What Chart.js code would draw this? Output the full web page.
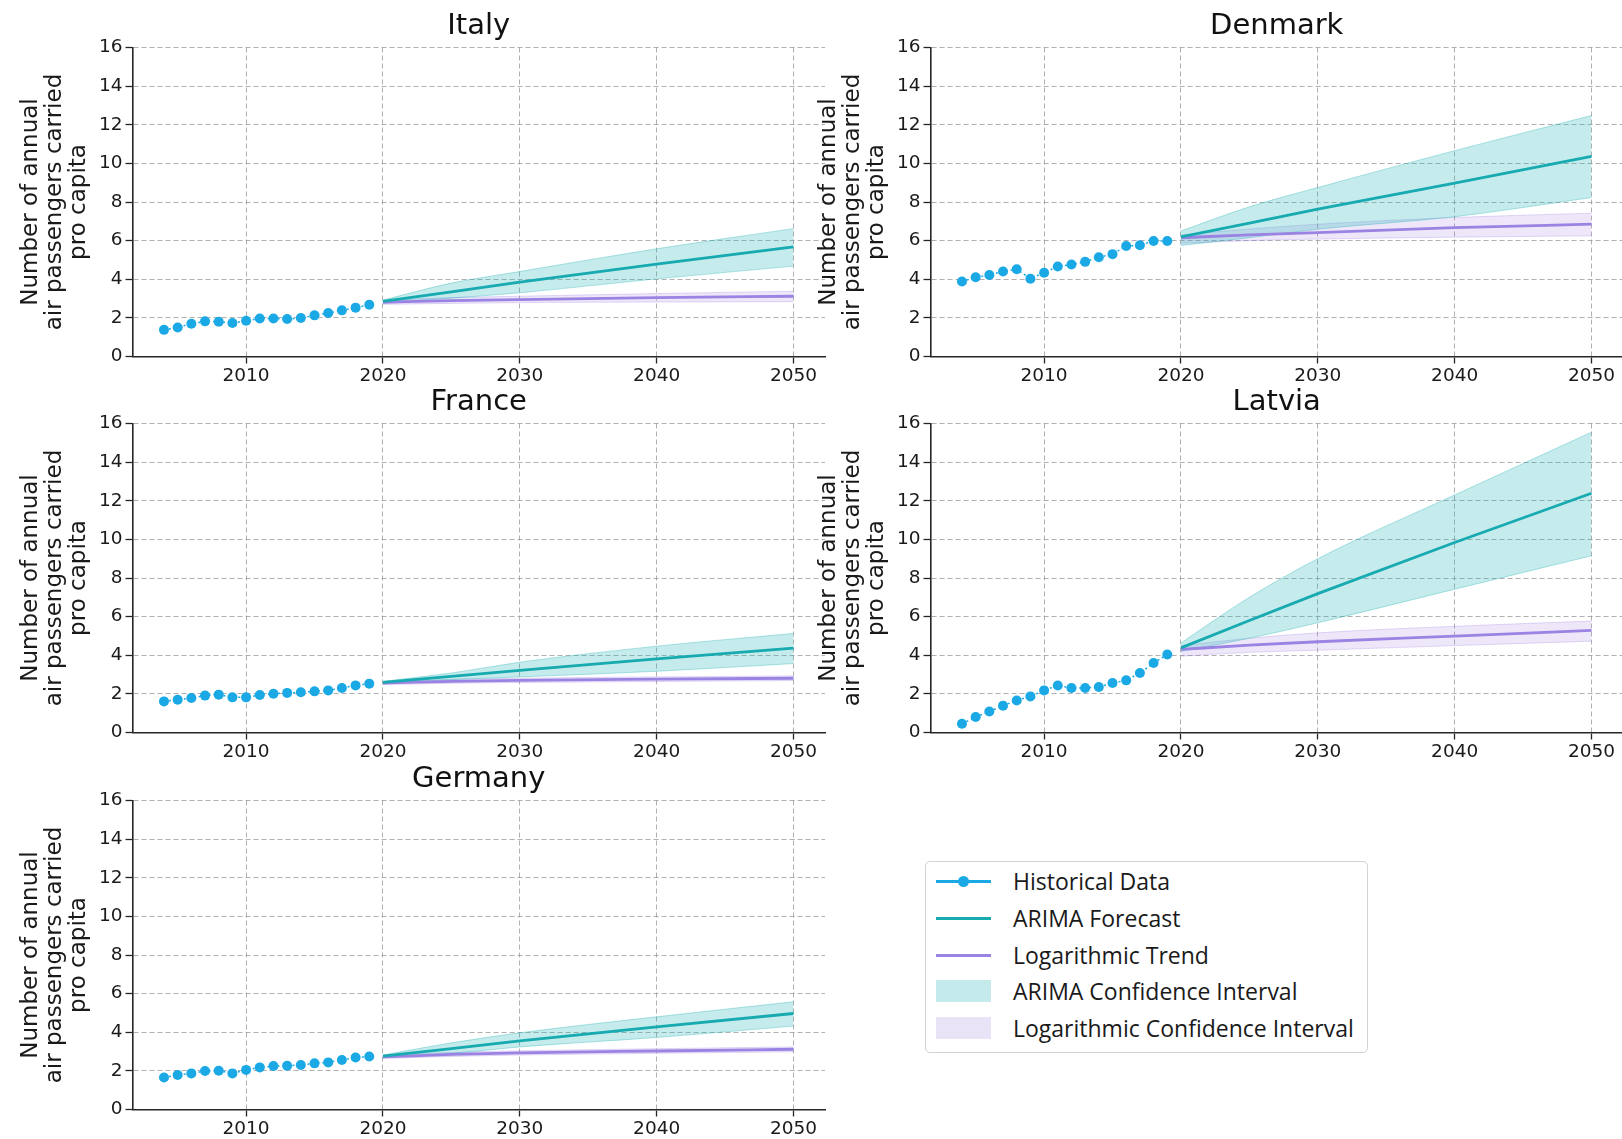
<!DOCTYPE html>
<html>
<head>
<meta charset="utf-8">
<script src="https://cdn.jsdelivr.net/npm/chart.js@4.4.1/dist/chart.umd.min.js"></script>
<style>
    html, body { margin: 0; padding: 0; width: 1622px; height: 1139px; overflow: hidden; background: #fff; }
    canvas { position: absolute; }
    #legend {
        position: absolute; left: 925px; top: 861px; width: 443px; height: 192px;
        box-sizing: border-box; border: 1px solid #d2d2d2; border-radius: 5px;
        font-family: 'Open Sans', sans-serif; font-size: 23px; color: #1a1a1a;
    }
    #legend .row { position: absolute; left: 0; height: 36px; display: flex; align-items: center; }
    #legend .handle { position: relative; width: 55px; height: 22px; margin-left: 10px; margin-right: 22px; }
    #legend .line { position: absolute; left: 0; right: 0; top: 10px; height: 3px; }
    #legend .dot { position: absolute; left: 22px; top: 6px; width: 11px; height: 11px; border-radius: 50%; }
    #legend .swatch { position: absolute; left: 0; right: 0; top: 0; bottom: 0; }
</style>
</head>
<body>
<div id="legend">
    <div class="row" style="top:1px"><div class="handle"><div class="line" style="background:#1aa9e4"></div><div class="dot" style="background:#1aa9e4"></div></div><span>Historical Data</span></div>
    <div class="row" style="top:38px"><div class="handle"><div class="line" style="background:#17aab0"></div></div><span>ARIMA Forecast</span></div>
    <div class="row" style="top:75px"><div class="handle"><div class="line" style="background:#9a83e2"></div></div><span>Logarithmic Trend</span></div>
    <div class="row" style="top:111px"><div class="handle"><div class="swatch" style="background:#c4eaeb"></div></div><span>ARIMA Confidence Interval</span></div>
    <div class="row" style="top:148px"><div class="handle"><div class="swatch" style="background:#e9e3f8"></div></div><span>Logarithmic Confidence Interval</span></div>
</div>
<script>
// years and ticks
const histYears = [2004, 2005, 2006, 2007, 2008, 2009, 2010, 2011, 2012, 2013, 2014, 2015, 2016, 2017, 2018, 2019];
const fcYears = [2020, 2025, 2030, 2040, 2050];
const xTicks = [2010, 2020, 2030, 2040, 2050];
const yTicks = [0, 2, 4, 6, 8, 10, 12, 14, 16];
const yLabel = ['Number of annual', 'air passengers carried', 'pro capita'];

// Italy
const italyHist = [1.38, 1.50, 1.70, 1.82, 1.80, 1.73, 1.85, 1.97, 1.97, 1.94, 1.99, 2.13, 2.25, 2.39, 2.53, 2.68];
const italyArima = [2.85, 3.35, 3.85, 4.78, 5.68];
const italyArimaHi = [2.92, 3.80, 4.40, 5.58, 6.62];
const italyArimaLo = [2.78, 3.02, 3.30, 4.02, 4.68];
const italyLog = [2.81, 2.89, 2.95, 3.05, 3.12];
const italyLogHi = [2.92, 3.05, 3.12, 3.26, 3.38];
const italyLogLo = [2.70, 2.75, 2.79, 2.82, 2.84];

// Denmark
const denmarkHist = [3.88, 4.10, 4.22, 4.40, 4.52, 4.03, 4.34, 4.66, 4.76, 4.90, 5.14, 5.30, 5.72, 5.76, 5.98, 5.98];
const denmarkArima = [6.20, 6.90, 7.63, 8.98, 10.36];
const denmarkArimaHi = [6.50, 7.75, 8.75, 10.66, 12.48];
const denmarkArimaLo = [5.75, 6.15, 6.59, 7.24, 8.23];
const denmarkLog = [6.15, 6.30, 6.41, 6.67, 6.85];
const denmarkLogHi = [6.30, 6.60, 6.85, 7.20, 7.42];
const denmarkLogLo = [5.86, 6.00, 6.08, 6.18, 6.25];

// France
const franceHist = [1.61, 1.70, 1.79, 1.91, 1.96, 1.82, 1.82, 1.94, 2.01, 2.05, 2.08, 2.13, 2.18, 2.30, 2.44, 2.53];
const franceArima = [2.60, 2.91, 3.22, 3.81, 4.37];
const franceArimaHi = [2.65, 3.08, 3.64, 4.47, 5.13];
const franceArimaLo = [2.55, 2.74, 2.88, 3.17, 3.57];
const franceLog = [2.56, 2.65, 2.70, 2.76, 2.81];
const franceLogHi = [2.64, 2.75, 2.81, 2.88, 2.93];
const franceLogLo = [2.48, 2.55, 2.59, 2.64, 2.69];

// Latvia
const latviaHist = [0.45, 0.80, 1.09, 1.39, 1.66, 1.87, 2.18, 2.43, 2.30, 2.30, 2.36, 2.56, 2.70, 3.08, 3.60, 4.04];
const latviaArima = [4.38, 5.80, 7.19, 9.84, 12.39];
const latviaArimaHi = [4.64, 7.00, 9.00, 12.30, 15.55];
const latviaArimaLo = [4.20, 4.88, 5.68, 7.42, 9.15];
const latviaLog = [4.30, 4.52, 4.70, 4.99, 5.29];
const latviaLogHi = [4.50, 4.88, 5.16, 5.50, 5.77];
const latviaLogLo = [3.95, 4.15, 4.26, 4.50, 4.73];

// Germany
const germanyHist = [1.66, 1.79, 1.87, 1.99, 2.01, 1.87, 2.05, 2.18, 2.25, 2.27, 2.30, 2.39, 2.44, 2.56, 2.69, 2.74];
const germanyArima = [2.76, 3.15, 3.55, 4.28, 4.97];
const germanyArimaHi = [2.82, 3.45, 3.97, 4.80, 5.58];
const germanyArimaLo = [2.70, 2.90, 3.24, 3.73, 4.32];
const germanyLog = [2.72, 2.85, 2.93, 3.03, 3.12];
const germanyLogHi = [2.80, 2.95, 3.04, 3.15, 3.24];
const germanyLogLo = [2.64, 2.75, 2.82, 2.91, 2.99];

const panels = [
    { title: 'Italy', col: 0, row: 0, hist: italyHist, arima: italyArima, arimaHi: italyArimaHi, arimaLo: italyArimaLo, log: italyLog, logHi: italyLogHi, logLo: italyLogLo },
    { title: 'Denmark', col: 1, row: 0, hist: denmarkHist, arima: denmarkArima, arimaHi: denmarkArimaHi, arimaLo: denmarkArimaLo, log: denmarkLog, logHi: denmarkLogHi, logLo: denmarkLogLo },
    { title: 'France', col: 0, row: 1, hist: franceHist, arima: franceArima, arimaHi: franceArimaHi, arimaLo: franceArimaLo, log: franceLog, logHi: franceLogHi, logLo: franceLogLo },
    { title: 'Latvia', col: 1, row: 1, hist: latviaHist, arima: latviaArima, arimaHi: latviaArimaHi, arimaLo: latviaArimaLo, log: latviaLog, logHi: latviaLogHi, logLo: latviaLogLo },
    { title: 'Germany', col: 0, row: 2, hist: germanyHist, arima: germanyArima, arimaHi: germanyArimaHi, arimaLo: germanyArimaLo, log: germanyLog, logHi: germanyLogHi, logLo: germanyLogLo }
];

// layout of the canvases
const canvasW = 830, canvasH = 389;
const colLeft = [0, 798];
const rowTop = [0, 376, 753];
const yAxisW = 132.5, plotW = 694, xAxisH = 32.5;

const colors = {
    hist: '#1aa9e4',
    arima: '#17aab0',
    arimaFill: 'rgba(32, 178, 180, 0.26)',
    arimaEdge: 'rgba(32, 178, 180, 0.35)',
    log: '#9a83e2',
    logFill: 'rgba(147, 112, 219, 0.17)',
    logEdge: 'rgba(147, 112, 219, 0.25)',
    grid: 'rgba(150, 150, 150, 0.75)',
    axis: '#262626',
    text: '#1a1a1a'
};

const pts = (xs, ys) => xs.map((x, i) => ({ x: x, y: ys[i] }));
const baseFont = "'DejaVu Sans', sans-serif";

function makeChart(p) {
    const canvas = document.createElement('canvas');
    canvas.width = canvasW;
    canvas.height = canvasH;
    canvas.style.left = colLeft[p.col] + 'px';
    canvas.style.top = rowTop[p.row] + 'px';
    document.body.appendChild(canvas);

    return new Chart(canvas.getContext('2d'), {
        type: 'line',
        data: {
            datasets: [
                {
                    data: pts(histYears, p.hist),
                    borderColor: colors.hist,
                    borderWidth: 1.5,
                    borderDash: [2, 3],
                    pointRadius: 5,
                    pointBackgroundColor: colors.hist,
                    pointBorderWidth: 0,
                    fill: false
                },
                {
                    data: pts(fcYears, p.arima),
                    borderColor: colors.arima,
                    borderWidth: 2.8,
                    pointRadius: 0,
                    fill: false
                },
                {
                    data: pts(fcYears, p.log),
                    borderColor: colors.log,
                    borderWidth: 2.8,
                    pointRadius: 0,
                    cubicInterpolationMode: 'monotone',
                    fill: false
                },
                {
                    data: pts(fcYears, p.arimaHi),
                    borderColor: colors.arimaEdge,
                    borderWidth: 1,
                    backgroundColor: colors.arimaFill,
                    pointRadius: 0,
                    cubicInterpolationMode: 'monotone',
                    fill: '+1'
                },
                {
                    data: pts(fcYears, p.arimaLo),
                    borderColor: colors.arimaEdge,
                    borderWidth: 1,
                    pointRadius: 0,
                    cubicInterpolationMode: 'monotone',
                    fill: false
                },
                {
                    data: pts(fcYears, p.logHi),
                    borderColor: colors.logEdge,
                    borderWidth: 1,
                    backgroundColor: colors.logFill,
                    pointRadius: 0,
                    cubicInterpolationMode: 'monotone',
                    fill: '+1'
                },
                {
                    data: pts(fcYears, p.logLo),
                    borderColor: colors.logEdge,
                    borderWidth: 1,
                    pointRadius: 0,
                    cubicInterpolationMode: 'monotone',
                    fill: false
                }
            ]
        },
        options: {
            responsive: false,
            animation: false,
            devicePixelRatio: 1,
            layout: { padding: { left: 0, top: 0, right: canvasW - yAxisW - plotW, bottom: 0 } },
            plugins: {
                legend: { display: false },
                tooltip: { enabled: false },
                title: {
                    display: true,
                    fullSize: false,
                    text: p.title,
                    color: '#111',
                    font: { family: baseFont, size: 29, weight: 'normal', lineHeight: 1.2 },
                    padding: { top: 9, bottom: 3.7 }
                }
            },
            scales: {
                x: {
                    type: 'linear',
                    min: 2001.7,
                    max: 2052.3,
                    afterBuildTicks: (axis) => { axis.ticks = xTicks.map(v => ({ value: v })); },
                    afterFit: (scale) => { scale.height = xAxisH; },
                    grid: { color: colors.grid, lineWidth: 1, tickColor: colors.axis, tickLength: 7, tickWidth: 1.3 },
                    border: { display: true, color: colors.axis, width: 1.6, dash: [5, 3] },
                    ticks: {
                        color: colors.text,
                        padding: 2,
                        maxRotation: 0,
                        font: { family: baseFont, size: 18.5 },
                        callback: (v) => String(v)
                    }
                },
                y: {
                    type: 'linear',
                    min: 0,
                    max: 16,
                    afterBuildTicks: (axis) => { axis.ticks = yTicks.map(v => ({ value: v })); },
                    afterFit: (scale) => { scale.width = yAxisW; },
                    grid: { color: colors.grid, lineWidth: 1, tickColor: colors.axis, tickLength: 7, tickWidth: 1.3 },
                    border: { display: true, color: colors.axis, width: 1.6, dash: [5, 3] },
                    ticks: {
                        color: colors.text,
                        padding: 3,
                        font: { family: baseFont, size: 18.5 }
                    },
                    title: {
                        display: true,
                        text: yLabel,
                        color: colors.text,
                        font: { family: baseFont, size: 23, lineHeight: 1.04 },
                        padding: { top: 19, bottom: 0 }
                    }
                }
            }
        }
    });
}

panels.forEach(makeChart);
</script>
</body>
</html>
